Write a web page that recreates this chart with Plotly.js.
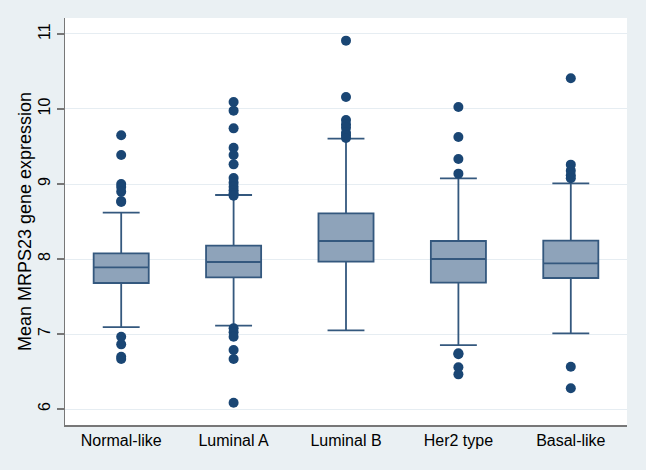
<!DOCTYPE html>
<html>
<head>
<meta charset="utf-8">
<script src="https://cdn.plot.ly/plotly-3.0.1.min.js"></script>
<style>html,body{margin:0;padding:0;background:#eaf0f3;}#chart{width:646px;height:470px;}</style>
</head>
<body>
<div id="chart"></div>
<script>
var categories = ['Normal-like', 'Luminal A', 'Luminal B', 'Her2 type', 'Basal-like'];
var q1Values = [7.68, 7.756, 7.964, 7.684, 7.747];
var medianValues = [7.889, 7.96, 8.24, 8.0, 7.942];
var q3Values = [8.076, 8.178, 8.609, 8.24, 8.244];
var lowerWhisker = [7.093, 7.111, 7.049, 6.853, 7.009];
var upperWhisker = [8.618, 8.853, 9.604, 9.076, 9.009];

var outliersNormal = [9.649, 9.387, 9.0, 8.96, 8.898, 8.773, 8.76, 6.964, 6.862, 6.698, 6.667];
var outliersLumA = [10.093, 9.978, 9.742, 9.484, 9.387, 9.262, 9.08, 9.018, 8.964, 8.916, 8.876, 8.844,
                    7.076, 7.022, 6.964, 6.787, 6.667, 6.084];
var outliersLumB = [10.911, 10.16, 9.853, 9.796, 9.751, 9.684, 9.649, 9.613];
var outliersHer2 = [10.027, 9.627, 9.333, 9.138, 6.742, 6.73, 6.556, 6.462];
var outliersBasal = [10.409, 9.258, 9.178, 9.116, 9.076, 6.564, 6.276];

var yTickValues = [6, 7, 8, 9, 10, 11];

var outlierGroups = [outliersNormal, outliersLumA, outliersLumB, outliersHer2, outliersBasal];
var ox = [], oy = [];
outlierGroups.forEach(function (g, i) {
  g.forEach(function (v) { ox.push(categories[i]); oy.push(v); });
});

var boxTrace = {
  type: 'box',
  x: categories,
  q1: q1Values,
  median: medianValues,
  q3: q3Values,
  lowerfence: lowerWhisker,
  upperfence: upperWhisker,
  boxpoints: false,
  width: 0.49,
  whiskerwidth: 0.67,
  fillcolor: '#8ea3ba',
  line: { color: '#34587e', width: 1.8 },
  hoverinfo: 'skip',
  showlegend: false
};

var outlierTrace = {
  type: 'scatter',
  mode: 'markers',
  x: ox,
  y: oy,
  marker: { color: '#1a4674', size: 10 },
  hoverinfo: 'skip',
  showlegend: false
};

var layout = {
  width: 646,
  height: 470,
  paper_bgcolor: '#eaf0f3',
  plot_bgcolor: '#ffffff',
  margin: { l: 65, r: 19, t: 18, b: 45 },
  showlegend: false,
  font: { family: 'Liberation Sans, Arial, sans-serif', color: '#000000', size: 16 },
  xaxis: {
    type: 'category',
    categoryorder: 'array',
    categoryarray: categories,
    range: [-0.5, 4.5],
    showgrid: false,
    zeroline: false,
    showline: true,
    linecolor: '#777777',
    linewidth: 1.5,
    ticks: '',
    tickfont: { size: 16, color: '#000000' }
  },
  yaxis: {
    range: [5.787, 11.213],
    tickvals: yTickValues,
    ticktext: yTickValues.map(String),
    tickangle: -90,
    showgrid: true,
    gridcolor: '#e6edf2',
    gridwidth: 1,
    zeroline: false,
    showline: true,
    linecolor: '#777777',
    linewidth: 1.5,
    ticks: 'outside',
    ticklen: 7,
    tickcolor: '#777777',
    tickwidth: 1.2,
    tickfont: { size: 16, color: '#000000' },
    title: { text: 'Mean MRPS23 gene expression', font: { size: 18, color: '#000000' }, standoff: 0 }
  }
};

Plotly.newPlot('chart', [boxTrace, outlierTrace], layout, { displayModeBar: false, staticPlot: true });
</script>
</body>
</html>
